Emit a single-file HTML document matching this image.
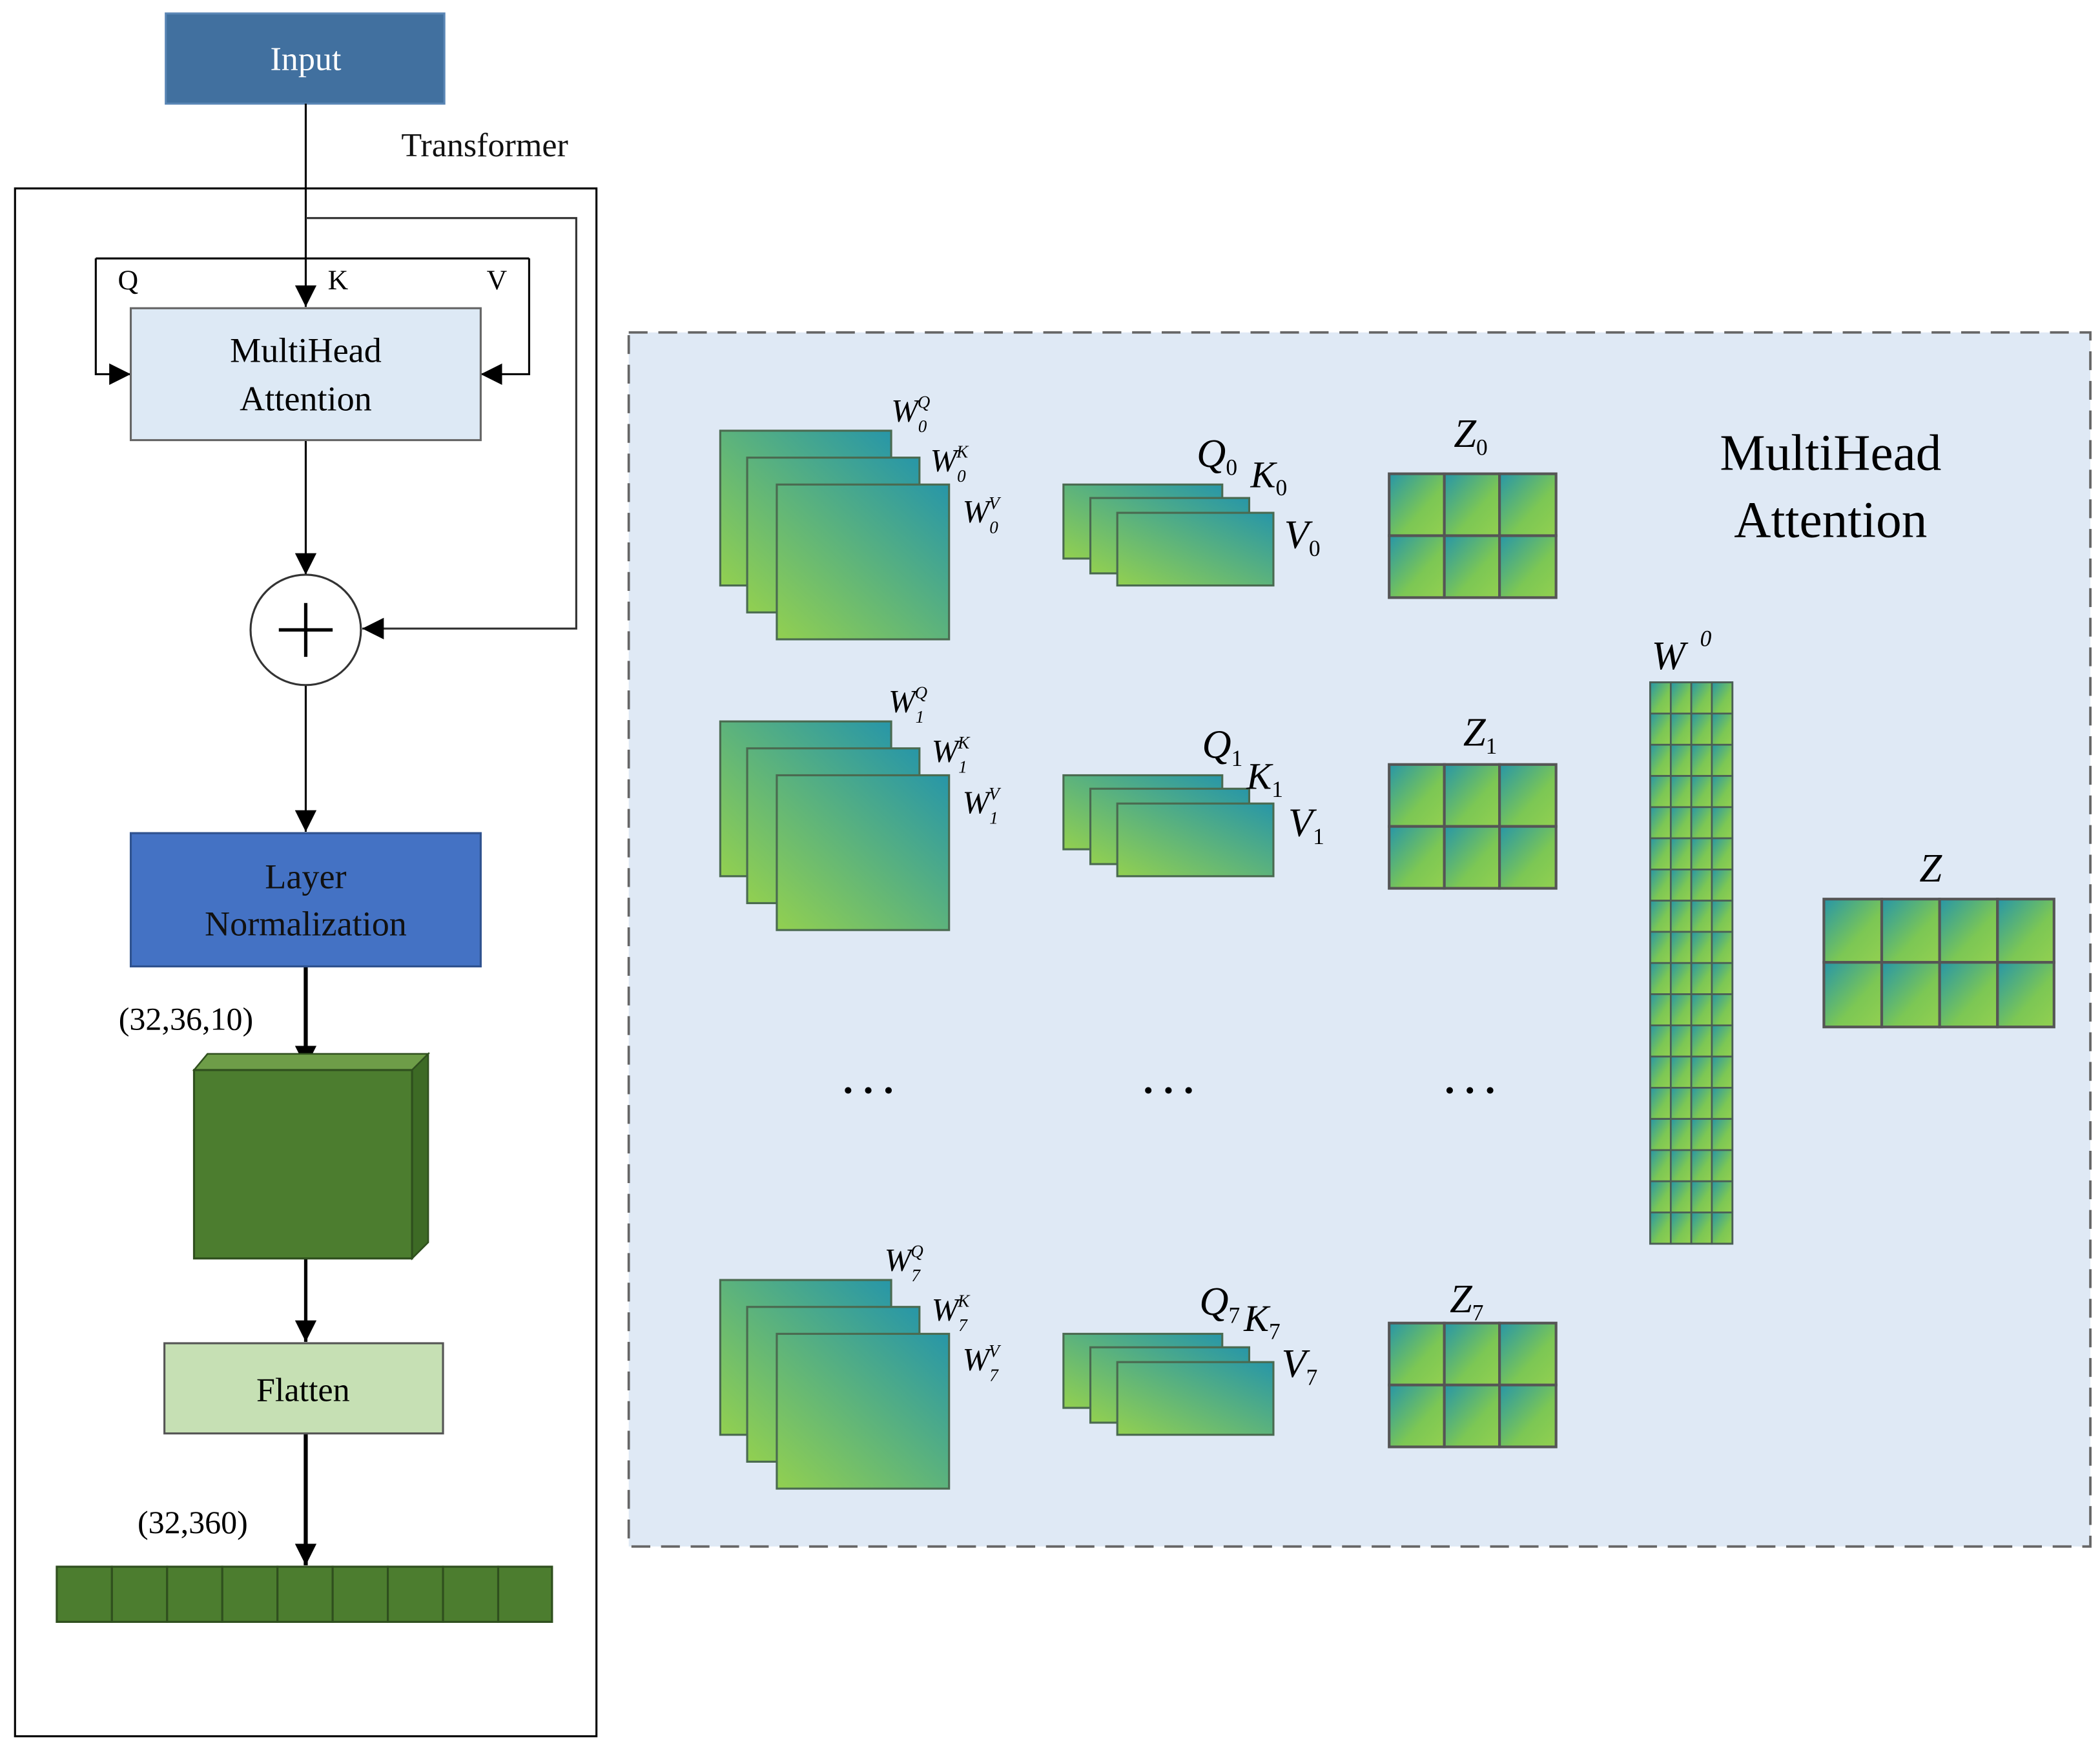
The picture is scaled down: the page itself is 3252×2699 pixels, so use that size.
<!DOCTYPE html>
<html><head><meta charset="utf-8"><style>html,body{margin:0;padding:0;background:#fff}svg{display:block}</style></head>
<body>
<svg width="3252" height="2699" viewBox="0 0 1560 1295" xmlns="http://www.w3.org/2000/svg" font-family="'Liberation Serif', serif">
<defs>
<linearGradient id="gw" x1="0" y1="1" x2="1" y2="0"><stop offset="0" stop-color="#92d050"/><stop offset="1" stop-color="#2796a8"/></linearGradient>
<linearGradient id="gc" x1="0" y1="0" x2="1" y2="1"><stop offset="0" stop-color="#2796a8"/><stop offset="0.6" stop-color="#7cc754"/><stop offset="1" stop-color="#92d050"/></linearGradient>
<marker id="ar" viewBox="0 0 10 10" refX="10" refY="5" markerWidth="8" markerHeight="8" markerUnits="userSpaceOnUse" orient="auto"><path d="M0,0 L10,5 L0,10 z" fill="#000"/></marker>
<marker id="ar2" viewBox="0 0 10 10" refX="10" refY="5" markerWidth="16" markerHeight="16" markerUnits="userSpaceOnUse" orient="auto"><path d="M0,0 L10,5 L0,10 z" fill="#000"/></marker>
<g id="wst" stroke="#4a6a50" stroke-width="1.5">
<rect x="535" y="320" width="127" height="115" fill="url(#gw)"/>
<rect x="555" y="340" width="128" height="115" fill="url(#gw)"/>
<rect x="577" y="360" width="128" height="115" fill="url(#gw)"/>
<rect x="790" y="360" width="118" height="55" fill="url(#gw)"/>
<rect x="810" y="370" width="118" height="56" fill="url(#gw)"/>
<rect x="830" y="381" width="116" height="54" fill="url(#gw)"/>
<g fill="url(#gc)" stroke="#555" stroke-width="2">
<rect x="1032" y="352" width="41" height="46"/><rect x="1073" y="352" width="41" height="46"/><rect x="1114" y="352" width="42" height="46"/>
<rect x="1032" y="398" width="41" height="46"/><rect x="1073" y="398" width="41" height="46"/><rect x="1114" y="398" width="42" height="46"/>
</g>
</g>
</defs>

<!-- Left part -->
<rect x="123" y="10" width="207" height="67" fill="#41709f" stroke="#5a86b5" stroke-width="1.5"/>
<text x="227" y="52" font-size="25" fill="#fff" text-anchor="middle">Input</text>
<text x="360" y="116" font-size="25" text-anchor="middle" fill="#111">Transformer</text>
<rect x="11" y="140" width="432" height="1150" fill="none" stroke="#000" stroke-width="1.5"/>

<g stroke="#000" stroke-width="1.5" fill="none">
<line x1="227" y1="77" x2="227" y2="228" marker-end="url(#ar2)"/>
<polyline points="227,162 428,162 428,467 269,467" stroke="#333" marker-end="url(#ar2)"/>
<line x1="71" y1="192" x2="393" y2="192"/>
<polyline points="71,192 71,278 97,278" marker-end="url(#ar2)"/>
<polyline points="393,192 393,278 357,278" marker-end="url(#ar2)"/>
<line x1="227" y1="327" x2="227" y2="427" marker-end="url(#ar2)"/>
<line x1="227" y1="509" x2="227" y2="618" marker-end="url(#ar2)"/>
<line x1="227" y1="718" x2="227" y2="793" stroke-width="3" marker-end="url(#ar2)"/>
<line x1="227" y1="935" x2="227" y2="997" stroke-width="2.5" marker-end="url(#ar2)"/>
<line x1="227" y1="1065" x2="227" y2="1163" stroke-width="3" marker-end="url(#ar2)"/>
</g>
<text x="95" y="215" font-size="21" text-anchor="middle">Q</text>
<text x="251" y="215" font-size="21" text-anchor="middle">K</text>
<text x="369" y="215" font-size="21" text-anchor="middle">V</text>

<rect x="97" y="229" width="260" height="98" fill="#dde9f5" stroke="#666" stroke-width="1.5"/>
<text x="227" y="269" font-size="26" text-anchor="middle">MultiHead</text>
<text x="227" y="305" font-size="26" text-anchor="middle">Attention</text>

<circle cx="227" cy="468" r="41" fill="#fff" stroke="#333" stroke-width="1.5"/>
<line x1="207" y1="468" x2="247" y2="468" stroke="#000" stroke-width="2.5"/>
<line x1="227" y1="448" x2="227" y2="488" stroke="#000" stroke-width="2.5"/>

<rect x="97" y="619" width="260" height="99" fill="#4472c4" stroke="#2f528f" stroke-width="1.5"/>
<text x="227" y="660" font-size="26" text-anchor="middle" fill="#111">Layer</text>
<text x="227" y="695" font-size="26" text-anchor="middle" fill="#111">Normalization</text>

<text x="138" y="765" font-size="24" text-anchor="middle">(32,36,10)</text>
<polygon points="144,795 154,783 318,783 306,795" fill="#6e9d48" stroke="#2f4f1e" stroke-width="1.2"/>
<polygon points="306,795 318,783 318,923 306,935" fill="#3d6a25" stroke="#2f4f1e" stroke-width="1.2"/>
<rect x="144" y="795" width="162" height="140" fill="#4c7d2f" stroke="#2f4f1e" stroke-width="1.5"/>

<rect x="122" y="998" width="207" height="67" fill="#c6e0b4" stroke="#555" stroke-width="1.5"/>
<text x="225" y="1041" font-size="25" text-anchor="middle">Flatten</text>

<text x="143" y="1139" font-size="24" text-anchor="middle">(32,360)</text>
<g fill="#4c7d2f" stroke="#2f4f1e" stroke-width="1.5">
<rect x="42" y="1164" width="41" height="41"/><rect x="83" y="1164" width="41" height="41"/><rect x="124" y="1164" width="41" height="41"/>
<rect x="165" y="1164" width="41" height="41"/><rect x="206" y="1164" width="41" height="41"/><rect x="247" y="1164" width="41" height="41"/>
<rect x="288" y="1164" width="41" height="41"/><rect x="329" y="1164" width="41" height="41"/><rect x="370" y="1164" width="40" height="41"/>
</g>

<!-- Right panel -->
<rect x="467" y="247" width="1086" height="902" fill="#dfe9f5" stroke="#666" stroke-width="1.8" stroke-dasharray="14,8"/>
<text x="1360" y="349" font-size="38" text-anchor="middle">MultiHead</text>
<text x="1360" y="399" font-size="38" text-anchor="middle">Attention</text>

<use href="#wst"/>
<use href="#wst" y="216"/>
<use href="#wst" y="631"/>

<g font-style="italic" font-size="24">
<text x="662" y="313">W<tspan font-size="13" dy="8">0</tspan><tspan font-size="13" dx="-7" dy="-18">Q</tspan></text>
<text x="691" y="350">W<tspan font-size="13" dy="8">0</tspan><tspan font-size="13" dx="-7" dy="-18">K</tspan></text>
<text x="715" y="388">W<tspan font-size="13" dy="8">0</tspan><tspan font-size="13" dx="-7" dy="-18">V</tspan></text>
<text x="660" y="529">W<tspan font-size="13" dy="8">1</tspan><tspan font-size="13" dx="-7" dy="-18">Q</tspan></text>
<text x="692" y="566">W<tspan font-size="13" dy="8">1</tspan><tspan font-size="13" dx="-7" dy="-18">K</tspan></text>
<text x="715" y="604">W<tspan font-size="13" dy="8">1</tspan><tspan font-size="13" dx="-7" dy="-18">V</tspan></text>
<text x="657" y="944">W<tspan font-size="13" dy="8">7</tspan><tspan font-size="13" dx="-7" dy="-18">Q</tspan></text>
<text x="692" y="981">W<tspan font-size="13" dy="8">7</tspan><tspan font-size="13" dx="-7" dy="-18">K</tspan></text>
<text x="715" y="1018">W<tspan font-size="13" dy="8">7</tspan><tspan font-size="13" dx="-7" dy="-18">V</tspan></text>

<text x="889" y="347" font-size="30">Q<tspan font-size="17" dy="6" font-style="normal">0</tspan></text>
<text x="929" y="362" font-size="28">K<tspan font-size="17" dy="6" font-style="normal">0</tspan></text>
<text x="954" y="407" font-size="30">V<tspan font-size="17" dy="6" font-style="normal">0</tspan></text>
<text x="893" y="563" font-size="30">Q<tspan font-size="17" dy="6" font-style="normal">1</tspan></text>
<text x="926" y="586" font-size="28">K<tspan font-size="17" dy="6" font-style="normal">1</tspan></text>
<text x="957" y="621" font-size="30">V<tspan font-size="17" dy="6" font-style="normal">1</tspan></text>
<text x="891" y="977" font-size="30">Q<tspan font-size="17" dy="6" font-style="normal">7</tspan></text>
<text x="924" y="989" font-size="28">K<tspan font-size="17" dy="6" font-style="normal">7</tspan></text>
<text x="952" y="1023" font-size="30">V<tspan font-size="17" dy="6" font-style="normal">7</tspan></text>

<text x="1080" y="332" font-size="30">Z<tspan font-size="17" dy="6" font-style="normal">0</tspan></text>
<text x="1087" y="554" font-size="30">Z<tspan font-size="17" dy="6" font-style="normal">1</tspan></text>
<text x="1077" y="975" font-size="30">Z<tspan font-size="17" dy="6" font-style="normal">7</tspan></text>
<text x="1227" y="497" font-size="30">W</text>
<text x="1263" y="480" font-size="17">0</text>
<text x="1426" y="655" font-size="30">Z</text>
</g>

<g font-size="30" text-anchor="middle" font-weight="bold">
<text x="645" y="812">. . .</text>
<text x="868" y="812">. . .</text>
<text x="1092" y="812">. . .</text>
</g>

<!-- W^O column -->
<g fill="url(#gc)" stroke="#4a5e55" stroke-width="1.5">
<rect x="1226" y="507" width="61" height="417" fill="none"/>
</g>
<g id="wo" stroke="#4a5e55" stroke-width="1.3" fill="url(#gc)"></g>
<g stroke="#4a5e55" stroke-width="1.3" fill="url(#gc)">
<!-- 18 rows x 4 cols -->
<g id="worow">
<rect x="1226" y="507" width="15.25" height="23.17"/><rect x="1241.25" y="507" width="15.25" height="23.17"/><rect x="1256.5" y="507" width="15.25" height="23.17"/><rect x="1271.75" y="507" width="15.25" height="23.17"/>
</g>
<use href="#worow" y="23.17"/><use href="#worow" y="46.33"/><use href="#worow" y="69.5"/><use href="#worow" y="92.67"/>
<use href="#worow" y="115.83"/><use href="#worow" y="139"/><use href="#worow" y="162.17"/><use href="#worow" y="185.33"/>
<use href="#worow" y="208.5"/><use href="#worow" y="231.67"/><use href="#worow" y="254.83"/><use href="#worow" y="278"/>
<use href="#worow" y="301.17"/><use href="#worow" y="324.33"/><use href="#worow" y="347.5"/><use href="#worow" y="370.67"/>
<use href="#worow" y="393.83"/>
</g>

<!-- Z output -->
<g fill="url(#gc)" stroke="#555" stroke-width="2">
<rect x="1355" y="668" width="43" height="47"/><rect x="1398" y="668" width="43" height="47"/><rect x="1441" y="668" width="43" height="47"/><rect x="1484" y="668" width="42" height="47"/>
<rect x="1355" y="715" width="43" height="48"/><rect x="1398" y="715" width="43" height="48"/><rect x="1441" y="715" width="43" height="48"/><rect x="1484" y="715" width="42" height="48"/>
</g>
</svg>
</body></html>
